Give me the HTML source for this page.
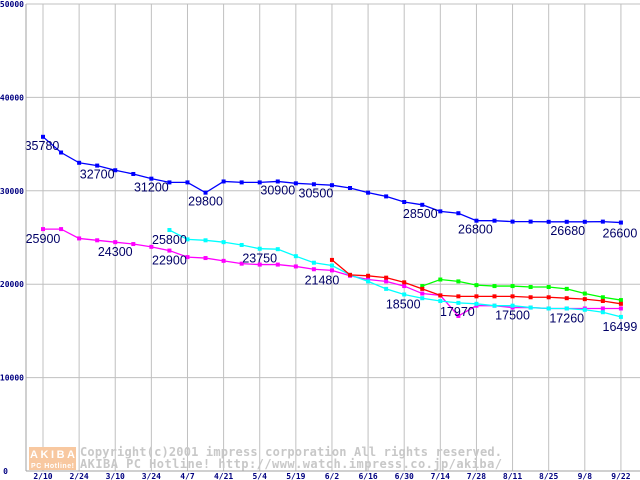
<!DOCTYPE html>
<html><head><meta charset="utf-8"><style>
html,body{margin:0;padding:0;background:#fff;}
svg{display:block;}
.ax{font-family:"DejaVu Sans Mono","Liberation Mono",monospace;font-size:8px;font-weight:bold;fill:#000080;}
.lb{font-family:"Liberation Sans",sans-serif;font-size:12.5px;fill:#000066;}
.wm{font-family:"DejaVu Sans Mono","Liberation Mono",monospace;font-size:12px;font-weight:bold;fill:#c8c8c8;}
</style></head><body>
<svg id="chart" width="640" height="480" xmlns="http://www.w3.org/2000/svg">
<g id="grid"></g>
<g>
<rect x="29" y="447" width="47" height="23" fill="#f8c8a0"/>
<text x="30" y="458" font-family="Liberation Sans,sans-serif" font-size="11" textLength="45" font-weight="bold" fill="#fff">AKIBA</text>
<text x="31" y="468" font-family="Liberation Sans,sans-serif" font-size="7" textLength="43" font-weight="bold" fill="#fff">PC Hotline!</text>
<text class="wm" x="80" y="456" textLength="422">Copyright(c)2001 impress corporation All rights reserved.</text>
<text class="wm" x="80" y="468" textLength="422">AKIBA PC Hotline!  http://www.watch.impress.co.jp/akiba/</text>
</g>
<g id="series"></g>
<g id="labels"></g>
<g id="axes"></g>
</svg>
<script>
const xTickLabels=["2/10","2/24","3/10","3/24","4/7","4/21","5/4","5/19","6/2","6/16","6/30","7/14","7/28","8/11","8/25","9/8","9/22"];
const yTicks=[0,10000,20000,30000,40000,50000];
const blueValues=[35780,34100,33000,32700,32200,31800,31300,30900,30900,29800,31000,30900,30900,31000,30800,30700,30600,30300,29800,29400,28800,28500,27800,27600,26800,26800,26700,26700,26680,26680,26680,26700,26600];
const magentaValues=[25900,25900,24900,24700,24500,24300,24000,23600,22900,22800,22500,22200,22100,22100,21900,21600,21480,20900,20500,20300,19800,19000,18800,16600,17700,17700,17500,17500,17400,17400,17400,17400,17400];
const cyanValues=[null,null,null,null,null,null,null,25800,24800,24700,24500,24200,23800,23750,23000,22300,22000,21000,20300,19500,18900,18500,18200,18000,17900,17700,17700,17500,17400,17400,17260,17000,16499];
const redValues=[null,null,null,null,null,null,null,null,null,null,null,null,null,null,null,null,22600,21000,20900,20700,20200,19500,18800,18700,18700,18700,18700,18600,18600,18500,18400,18200,17900];
const greenValues=[null,null,null,null,null,null,null,null,null,null,null,null,null,null,null,null,null,null,null,null,null,19800,20500,20300,19900,19800,19800,19700,19700,19500,19000,18600,18300];
const labelSeries=["blue","blue","blue","blue","blue","blue","blue","blue","blue","blue","magenta","magenta","magenta","magenta","magenta","cyan","cyan","cyan","cyan","cyan","cyan"];
const labelIndex=[0,3,6,9,13,15,21,24,29,32,0,4,7,16,23,7,12,20,26,29,32];
const labelText=["35780","32700","31200","29800","30900","30500","28500","26800","26680","26600","25900","24300","22900","21480","17970","25800","23750","18500","17500","17260","16499"];
const labelDx=[-1,0,0,0,0,2,-2,-1,1,-1,0,0,0,-10,-1,0,0,-1,0,0,-1];
const labelDy=[13,13,13,13,13,13,13,13,13,15,14,14,14,14,0,14,14,14,14,14,14];
const NS="http://www.w3.org/2000/svg";
const X=i=>43+i*18.06, Y=v=>471-v*0.00934;
function mk(tag,parent,attrs){const e=document.createElementNS(NS,tag);for(const k in attrs)e.setAttribute(k,attrs[k]);parent.appendChild(e);return e;}
const grid=document.getElementById('grid'),axes=document.getElementById('axes');
yTicks.forEach(t=>{const l=mk('line',grid,{x1:26,x2:640,y1:Y(t),y2:Y(t),stroke:'#c0c0c0','stroke-width':1});


const tx=mk('text',axes,{x:t===0?8:24,y:Y(t)+3,'text-anchor':'end',class:'ax'});tx.textContent=t;

});
xTickLabels.forEach((s,k)=>{const x=X(k*2);const l=mk('line',grid,{x1:x,x2:x,y1:4,y2:471,stroke:'#c0c0c0','stroke-width':1});


const tx=mk('text',axes,{x:x,y:479,'text-anchor':'middle',class:'ax'});tx.textContent=s;

});
const ax1=mk('line',axes,{x1:26,x2:26,y1:4,y2:471,stroke:'#a0a0a0'});


const ax2=mk('line',axes,{x1:26,x2:640,y1:471,y2:471,stroke:'#a0a0a0'});


const series={blue:[blueValues,'#0000ff'],magenta:[magentaValues,'#ff00ff'],cyan:[cyanValues,'#00ffff'],red:[redValues,'#ff0000'],green:[greenValues,'#00ff00']};
const sg=document.getElementById('series');
['blue','magenta','cyan','green','red'].forEach(n=>{const [vals,c]=series[n];const g=mk('g',sg,{});


const pts=[];vals.forEach((v,i)=>{if(v!=null)pts.push([X(i),Y(v)]);});
const pl=mk('polyline',g,{points:pts.map(p=>p.join(',')).join(' '),fill:'none',stroke:c,'stroke-width':1.3});


pts.forEach(p=>{const r=mk('rect',g,{x:p[0]-2,y:p[1]-2,width:4,height:4,fill:c});

});});
const lg=document.getElementById('labels');
labelText.forEach((t,k)=>{const vals=series[labelSeries[k]][0];const i=labelIndex[k];
const tx=mk('text',lg,{x:X(i)+labelDx[k],y:Y(vals[i])+labelDy[k],'text-anchor':'middle',class:'lb'});tx.textContent=t;

});
</script>
</body></html>
